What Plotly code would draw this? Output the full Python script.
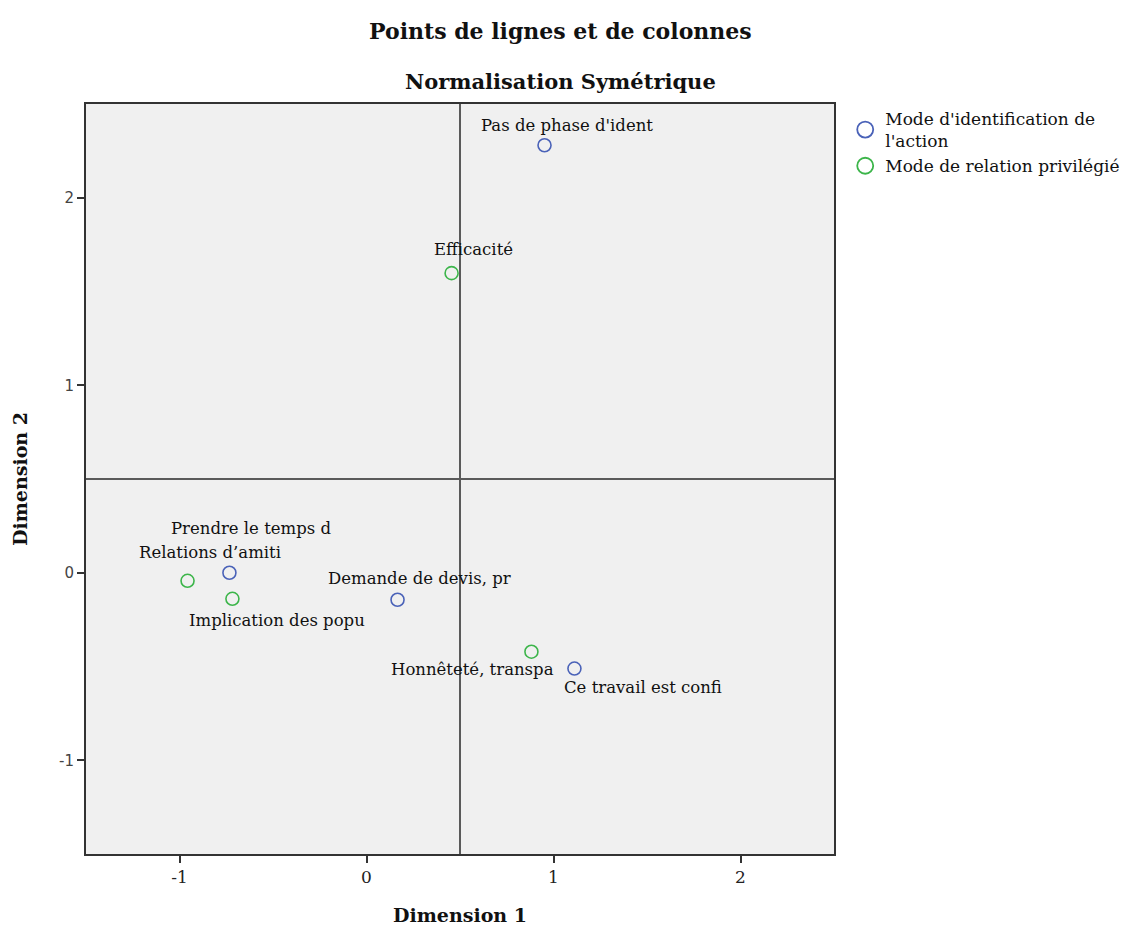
import plotly.graph_objects as go

# row points (Mode d'identification de l'action)
row_labels = ["Pas de phase d'ident", "Prendre le temps d", "Demande de devis, pr", "Ce travail est confi"]
row_x = [0.952, -0.733, 0.166, 1.112]
row_y = [2.28, 0.0, -0.144, -0.511]

# column points (Mode de relation privilégié)
col_labels = ["Efficacité", "Relations d’amiti", "Implication des popu", "Honnêteté, transpa"]
col_x = [0.455, -0.957, -0.717, 0.882]
col_y = [1.598, -0.043, -0.139, -0.421]

# label offsets in pixels (where SPSS put the text)
row_shift = [(22, 20), (22, 44), (22, 21), (69, -19)]
col_shift = [(22, 24), (22, 28), (45, -22), (-59, -18)]

tick_vals = [-1, 0, 1, 2]
tick_text = ["-1", "0", "1", "2"]

ref_x = 0.5
ref_y = 0.5

BLUE = "#4a62b8"
GREEN = "#3cb54a"
SERIF = "DejaVu Serif"

series = [
    ("Mode d'identification de<br>l'action", row_x, row_y, BLUE),
    ("Mode de relation privilégié", col_x, col_y, GREEN),
]

fig = go.Figure()

for name, xs, ys, color in series:
    fig.add_trace(go.Scatter(
        x=xs, y=ys, mode="markers", name=name, showlegend=False,
        marker={"symbol": "circle-open", "size": 13, "color": color, "line": {"width": 1.6}},
    ))
    # larger legend symbol, as in the SPSS output
    fig.add_trace(go.Scatter(
        x=[None], y=[None], mode="markers", name=name,
        marker={"symbol": "circle-open", "size": 18, "color": color, "line": {"width": 1.8}},
    ))

annotations = []
for labels, xs, ys, shifts in [(row_labels, row_x, row_y, row_shift),
                               (col_labels, col_x, col_y, col_shift)]:
    for lab, x, y, (dx, dy) in zip(labels, xs, ys, shifts):
        annotations.append(dict(
            x=x, y=y, text=lab, showarrow=False, xshift=dx, yshift=dy,
            font={"family": SERIF, "size": 16.5, "color": "#111"},
        ))

annotations.append(dict(
    x=0.635, y=1.0, xref="paper", yref="paper", yanchor="middle", yshift=73,
    text="<b>Points de lignes et de colonnes</b>",
    showarrow=False, font={"family": SERIF, "size": 22, "color": "#111"},
))
annotations.append(dict(
    x=0.635, y=1.0, xref="paper", yref="paper", yanchor="middle", yshift=23,
    text="<b>Normalisation Symétrique</b>",
    showarrow=False, font={"family": SERIF, "size": 21, "color": "#111"},
))

fig.add_shape(type="line", x0=ref_x, x1=ref_x, y0=-1.5, y1=2.5,
              line={"color": "#5a5a5a", "width": 2})
fig.add_shape(type="line", x0=-1.5, x1=2.5, y0=ref_y, y1=ref_y,
              line={"color": "#5a5a5a", "width": 2})

axis_common = dict(
    showgrid=False, zeroline=False, showline=True, mirror=True, automargin=False,
    linecolor="#333", linewidth=2, ticks="outside", ticklen=7, tickwidth=2, tickcolor="#333",
    tickvals=tick_vals, ticktext=tick_text,
)

fig.update_layout(
    width=1147, height=928,
    margin={"l": 78, "r": 321, "t": 96, "b": 82},
    paper_bgcolor="white", plot_bgcolor="#f0f0f0",
    annotations=annotations,
    showlegend=True,
    legend={"x": 1.015, "y": 1.004, "xanchor": "left", "yanchor": "top",
            "font": {"family": SERIF, "size": 17, "color": "#111"},
            "tracegroupgap": 6, "itemwidth": 30, "bgcolor": "rgba(0,0,0,0)"},
    xaxis={**axis_common, "range": [-1.5, 2.5],
           "tickfont": {"family": SERIF, "size": 17, "color": "#222"},
           "title": {"text": "<b>Dimension 1</b>", "standoff": 22,
                     "font": {"family": SERIF, "size": 19, "color": "#111"}}},
    yaxis={**axis_common, "range": [-1.5, 2.5],
           "tickfont": {"family": "DejaVu Sans", "size": 15, "color": "#444"},
           "title": {"text": "<b>Dimension 2</b>", "standoff": 26,
                     "font": {"family": SERIF, "size": 19, "color": "#111"}}},
)

fig.write_html("out.html")
